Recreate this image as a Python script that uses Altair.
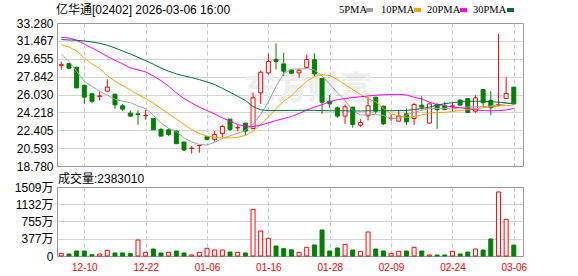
import altair as alt
import pandas as pd

# ---------------- data ----------------
dates = ["12-05", "12-08", "12-09", "12-10", "12-11", "12-12", "12-15", "12-16", "12-17", "12-18",
         "12-19", "12-22", "12-23", "12-24", "12-29", "12-30", "12-31", "01-02", "01-05", "01-06",
         "01-07", "01-08", "01-09", "01-12", "01-13", "01-14", "01-15", "01-16", "01-19", "01-20",
         "01-21", "01-22", "01-23", "01-26", "01-27", "01-28", "01-29", "01-30", "02-02", "02-03",
         "02-04", "02-05", "02-06", "02-09", "02-10", "02-11", "02-12", "02-13", "02-16", "02-20",
         "02-23", "02-24", "02-25", "02-26", "02-27", "03-02", "03-03", "03-04", "03-05", "03-06"]

opens = [28.98, 29.17, 28.79, 26.97, 26.10, 25.84, 26.37, 26.06, 24.88, 24.14,
         24.07, 23.88, 23.60, 22.49, 22.45, 22.32, 21.21, 20.55, 20.84, 21.75,
         21.48, 22.08, 23.53, 22.64, 23.13, 22.59, 26.20, 28.22, 29.60, 29.13,
         28.52, 28.22, 28.79, 29.57, 27.65, 25.35, 24.68, 23.84, 24.75, 22.93,
         23.87, 25.76, 24.85, 23.58, 23.33, 24.07, 23.60, 24.95, 23.13, 25.02,
         24.85, 24.83, 25.46, 25.62, 24.34, 26.53, 25.42, 24.92, 25.62, 26.77]
closes = [29.05, 28.70, 26.70, 25.76, 25.35, 25.88, 26.77, 24.98, 24.55, 23.84,
          24.00, 23.92, 22.45, 21.81, 21.98, 21.04, 20.40, 20.59, 20.87, 21.48,
          21.98, 22.79, 22.49, 22.68, 22.32, 25.69, 28.29, 29.37, 29.37, 28.39,
          28.19, 28.49, 29.57, 28.12, 25.25, 25.08, 23.84, 24.78, 22.99, 23.20,
          24.88, 24.34, 23.06, 23.62, 23.84, 23.26, 25.02, 24.75, 25.08, 24.51,
          24.51, 24.88, 24.95, 24.21, 25.69, 25.19, 24.68, 25.00, 26.13, 25.08]
highs = [29.35, 29.20, 28.85, 26.97, 26.20, 26.30, 27.55, 26.09, 25.08, 24.41,
         24.41, 24.48, 23.62, 22.66, 22.59, 22.38, 21.24, 20.80, 20.88, 21.81,
         22.32, 22.93, 23.53, 22.93, 23.13, 26.20, 28.46, 30.18, 31.22, 30.25,
         28.56, 28.66, 30.08, 30.21, 27.65, 25.96, 24.81, 25.02, 24.75, 23.53,
         25.76, 25.76, 24.85, 24.01, 24.41, 24.61, 25.19, 25.86, 25.10, 25.19,
         25.29, 25.25, 25.52, 25.62, 25.96, 26.53, 26.36, 32.17, 27.78, 26.80]
lows = [28.55, 28.60, 26.68, 25.08, 25.15, 25.42, 26.37, 24.58, 24.34, 23.74,
        22.96, 23.47, 22.45, 21.81, 21.81, 21.04, 20.30, 20.03, 20.13, 21.37,
        21.24, 21.71, 22.32, 22.32, 21.91, 22.50, 25.08, 28.05, 28.56, 27.88,
        28.12, 27.72, 28.64, 27.88, 24.07, 24.68, 23.67, 23.06, 22.66, 22.72,
        23.40, 24.07, 22.93, 23.33, 23.30, 22.93, 22.93, 24.51, 23.10, 22.55,
        24.45, 24.34, 24.90, 24.14, 24.17, 24.68, 23.94, 24.88, 25.62, 25.00]

# volume in 万 (10,000 shares); R = red bar, G = green bar
vols = [58, 44, 109, 109, 29, 44, 124, 66, 66, 51,
        350, 80, 153, 66, 80, 109, 66, 22, 80, 168,
        131, 131, 87, 80, 66, 1021, 547, 386, 219, 160,
        135, 80, 190, 241, 569, 109, 175, 255, 131, 102,
        525, 153, 109, 58, 102, 109, 190, 109, 22, 22,
        22, 102, 44, 87, 153, 131, 372, 1400, 802, 238]
vol_dir = ["R", "G", "G", "G", "G", "R", "R", "G", "G", "G",
           "R", "R", "G", "G", "R", "G", "G", "R", "R", "R",
           "R", "R", "G", "R", "G", "R", "R", "R", "G", "G",
           "G", "R", "R", "G", "G", "G", "G", "R", "G", "R",
           "R", "G", "G", "R", "R", "G", "R", "G", "R", "G",
           "G", "R", "G", "G", "R", "G", "G", "R", "R", "G"]

ma5 = [30.14, 29.40, 28.39, 27.37, 26.85, 26.36, 25.95, 25.55, 25.35, 25.21,
       24.87, 24.61, 23.95, 23.15, 22.60, 22.27, 21.63, 21.22, 20.96, 20.92,
       21.18, 21.57, 21.85, 22.08, 22.40, 23.00, 24.00, 25.30, 26.85, 28.15,
       28.60, 28.62, 28.66, 28.52, 27.90, 27.10, 26.20, 25.40, 24.40, 23.95,
       23.99, 23.99, 23.90, 23.60, 23.62, 23.93, 24.23, 24.43, 24.60, 24.62,
       24.62, 24.57, 24.71, 24.77, 24.77, 24.80, 24.86, 24.95, 25.11, 25.15]
ma10 = [31.09, 30.85, 30.44, 29.73, 29.13, 28.66, 27.95, 27.37, 26.94, 26.49,
        26.03, 25.62, 25.15, 24.61, 24.06, 23.55, 22.99, 22.48, 22.07, 21.80,
        21.70, 21.63, 21.63, 21.70, 21.87, 22.31, 22.99, 23.73, 24.61, 25.35,
        25.88, 26.69, 27.37, 27.85, 28.05, 27.95, 27.55, 27.04, 26.53, 26.03,
        25.62, 25.28, 24.61, 24.06, 23.88, 23.70, 23.80, 23.95, 24.15, 24.20,
        24.22, 24.30, 24.40, 24.50, 24.60, 24.68, 24.78, 24.85, 24.91, 24.96]
ma20 = [31.83, 31.76, 31.53, 31.15, 30.75, 30.34, 29.88, 29.50, 29.13, 28.72,
        28.52, 28.32, 27.91, 27.44, 26.87, 26.19, 25.62, 25.17, 24.74, 24.40,
        24.06, 23.66, 23.32, 22.99, 22.81, 22.78, 22.92, 23.15, 23.39, 23.59,
        23.80, 24.10, 24.45, 24.75, 25.00, 25.30, 25.50, 25.62, 25.72, 25.80,
        25.88, 25.95, 26.00, 26.03, 26.05, 25.98, 25.75, 25.58, 25.25, 25.00,
        24.90, 24.75, 24.68, 24.60, 24.48, 24.40, 24.38, 24.40, 24.45, 24.62]
ma30 = [31.60, 31.56, 31.53, 31.46, 31.36, 31.22, 31.02, 30.75, 30.44, 30.14,
        29.80, 29.47, 29.10, 28.72, 28.39, 28.12, 27.92, 27.74, 27.54, 27.30,
        27.04, 26.66, 26.26, 25.85, 25.42, 24.81, 24.47, 24.40, 24.40, 24.40,
        24.42, 24.42, 24.43, 24.42, 24.40, 24.38, 24.38, 24.38, 24.36, 24.36,
        24.38, 24.38, 24.38, 24.38, 24.40, 24.42, 24.50, 24.60, 24.75, 24.95,
        25.10, 25.20, 25.28, 25.33, 25.35, 25.35, 25.30, 25.25, 25.18, 25.10]

tick_dates = ["12-10", "12-22", "01-06", "01-16", "01-28", "02-09", "02-24", "03-06"]
price_ticks = ["18.780", "20.593", "22.405", "24.218", "26.030", "27.842", "29.655", "31.467", "33.280"]
vol_ticks = ["0", "377万", "755万", "1132万", "1509万"]
title_text = "亿华通[02402]  2026-03-06  16:00"
vol_title = "成交量:2383010"
ma_names = ["5PMA", "10PMA", "20PMA", "30PMA"]
ma_colors = ["#a3a3a3", "#f5a300", "#ff00ff", "#00703a"]
watermark = "东方财富"

# ---------------- tables ----------------
n = len(dates)
df = pd.DataFrame({"i": list(range(n)), "date": dates, "open": opens, "close": closes,
                   "high": highs, "low": lows, "vol": vols, "vdir": vol_dir})
ma_df = pd.DataFrame({
    "i": list(range(n)) * 4,
    "series": sum([[nm] * n for nm in ma_names], []),
    "value": ma5 + ma10 + ma20 + ma30,
})

RED = "#ff0000"
GREEN = "#008000"
FONT = "Liberation Sans, Noto Sans CJK SC"
GRID = "#d4d4d4"
VGRID = "#c8c8c8"
FRAME = "#999999"

price_vals = [float(s) for s in price_ticks]
vol_vals = [0.0] + [float(s.replace("万", "")) for s in vol_ticks[1:]]
x_tick_idx = [dates.index(d) for d in tick_dates]
x_label_expr = "".join(f"datum.value == {k} ? '{d}' : " for k, d in zip(x_tick_idx, tick_dates)) + "''"
vol_label_expr = "".join(f"datum.value == {v:g} ? '{s}' : " for v, s in zip(vol_vals, vol_ticks)) + "''"

xscale = alt.Scale(domain=[-0.56, 60.2], nice=False, zero=False, padding=0)
pscale = alt.Scale(domain=[price_vals[0], price_vals[-1]], nice=False, zero=False, padding=0)
vscale = alt.Scale(domain=[0, vol_vals[-1]], nice=False, padding=0)

up_test = "datum.close >= datum.open"

x_grid_axis = alt.Axis(values=x_tick_idx, labels=False, ticks=False, tickSize=0, domain=False,
                       grid=True, gridDash=[4, 3], gridColor=VGRID, title=None)
price_y_axis = alt.Axis(
    values=price_vals, format=".3f", labelFont=FONT, labelFontSize=12, labelColor="#000000",
    labelPadding=4, ticks=False, tickSize=0, domain=False, grid=True,
    gridColor={"condition": {"test": f"datum.value < {price_vals[0] + 0.01} || datum.value > {price_vals[-1] - 0.01}",
                             "value": "transparent"}, "value": GRID},
    labelOverlap=False, labelFlush=False, title=None)
vol_x_axis = alt.Axis(values=x_tick_idx, labelExpr=x_label_expr, labelColor=RED, labelFont=FONT,
                      labelFontSize=10, labelPadding=11, labelBaseline="middle", labelAngle=0,
                      ticks=False, tickSize=0, domain=False, grid=True, gridDash=[4, 3],
                      gridColor=VGRID, title=None, labelOverlap=False, labelFlush=False)
vol_y_axis = alt.Axis(
    values=vol_vals, labelExpr=vol_label_expr, labelFont=FONT, labelFontSize=12, labelColor="#000000",
    labelPadding=4, ticks=False, tickSize=0, domain=False, grid=True,
    gridColor={"condition": {"test": f"datum.value <= 0 || datum.value >= {vol_vals[-1] - 1}",
                             "value": "transparent"}, "value": GRID},
    labelOverlap=False, labelFlush=False, title=None)

X = lambda: alt.X("i:Q", scale=xscale, axis=x_grid_axis)

# ---------------- price panel ----------------
wm = alt.Chart(pd.DataFrame({"t": [watermark]})).mark_text(
    font="Noto Sans CJK SC", fontSize=32, fontWeight="bold", color="#eeeeee"
).encode(x=alt.value(251), y=alt.value(66), text="t:N")

wick = alt.Chart(df).mark_rule(strokeWidth=1).encode(
    x=X(),
    y=alt.Y("low:Q", scale=pscale, axis=price_y_axis),
    y2="high:Q",
    color=alt.condition(up_test, alt.value(RED), alt.value(GREEN)),
)
body = alt.Chart(df).mark_bar(size=4, strokeWidth=1).encode(
    x=X(),
    y=alt.Y("open:Q", scale=pscale, axis=price_y_axis),
    y2="close:Q",
    fill=alt.condition(up_test, alt.value("#ffffff"), alt.value(GREEN)),
    stroke=alt.condition(up_test, alt.value(RED), alt.value(GREEN)),
)
lines = alt.Chart(ma_df).mark_line(strokeWidth=1).encode(
    x=X(),
    y=alt.Y("value:Q", scale=pscale, axis=price_y_axis),
    color=alt.Color("series:N", scale=alt.Scale(domain=ma_names, range=ma_colors), legend=None),
    detail="series:N",
)
title = alt.Chart(pd.DataFrame({"t": [title_text]})).mark_text(
    align="left", baseline="middle", font=FONT, fontSize=12, color="#000000"
).encode(x=alt.value(-1), y=alt.value(-13.5), text="t:N")

legend_layers = []
text_x = [282, 324, 370, 416]
sq_x = [309, 357, 403, 450]
for nm, col, tx, sx in zip(ma_names, ma_colors, text_x, sq_x):
    one = pd.DataFrame({"t": [nm]})
    legend_layers.append(alt.Chart(one).mark_text(
        align="left", baseline="middle", font="Liberation Serif", fontSize=10.5, color="#000000"
    ).encode(x=alt.value(tx), y=alt.value(-13.5), text="t:N"))
    legend_layers.append(alt.Chart(one).mark_rect(color=col).encode(
        x=alt.value(sx), x2=alt.value(sx + 7), y=alt.value(-15), y2=alt.value(-11)))

anchor = alt.Chart(pd.DataFrame({"t": [0]})).mark_rule(opacity=0).encode(
    x=alt.value(-56), x2=alt.value(-50), y=alt.value(-22))

price = alt.layer(wm, wick, body, lines, title, *legend_layers, anchor).properties(width=466, height=143)

# ---------------- volume panel ----------------
vbars = alt.Chart(df).mark_bar(size=4, strokeWidth=1).encode(
    x=alt.X("i:Q", scale=xscale, axis=vol_x_axis),
    y=alt.Y("vol:Q", scale=vscale, axis=vol_y_axis),
    y2=alt.datum(0),
    fill=alt.condition("datum.vdir == 'R'", alt.value("#ffffff"), alt.value(GREEN)),
    stroke=alt.condition("datum.vdir == 'R'", alt.value(RED), alt.value(GREEN)),
)
vtitle = alt.Chart(pd.DataFrame({"t": [vol_title]})).mark_text(
    align="left", baseline="middle", font=FONT, fontSize=12, color="#000000"
).encode(x=alt.value(1), y=alt.value(-8.5), text="t:N")

volume = alt.layer(vbars, vtitle).properties(width=466, height=69)

chart = alt.vconcat(price, volume, spacing=21, bounds="flush").properties(
    padding=0, background="#ffffff"
).configure_view(stroke=FRAME, strokeWidth=1)

chart.save("out.html", embed_options={"renderer": "svg", "actions": False})
